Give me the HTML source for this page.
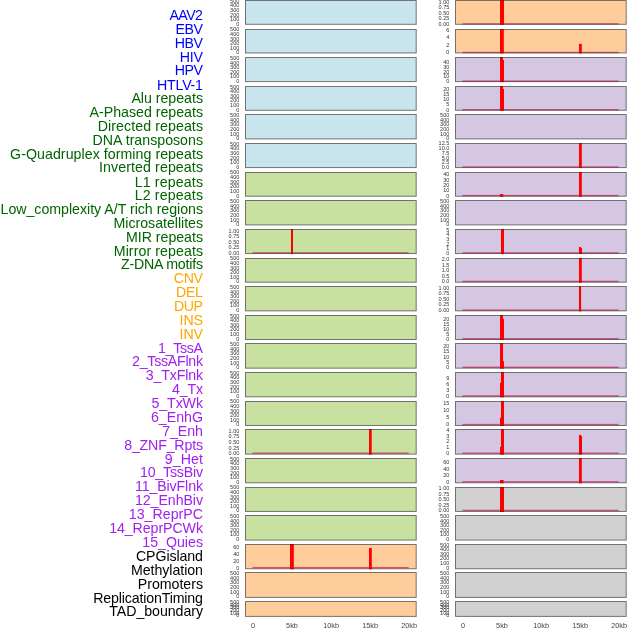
<!DOCTYPE html><html><head><meta charset="utf-8"><style>html,body{margin:0;padding:0;background:#fff;width:630px;height:630px;overflow:hidden}svg{display:block;will-change:transform}text{font-family:"Liberation Sans",sans-serif}</style></head><body>
<svg width="630" height="630" viewBox="0 0 630 630">
<text x="203.0" y="20" font-size="14.2" fill="#0000ff" text-anchor="end" textLength="33.55" lengthAdjust="spacing">AAV2</text>
<text x="203.0" y="34" font-size="14.2" fill="#0000ff" text-anchor="end" textLength="27.48" lengthAdjust="spacing">EBV</text>
<text x="203.0" y="48" font-size="14.2" fill="#0000ff" text-anchor="end" textLength="28.34" lengthAdjust="spacing">HBV</text>
<text x="203.0" y="62" font-size="14.2" fill="#0000ff" text-anchor="end" textLength="23.20" lengthAdjust="spacing">HIV</text>
<text x="203.0" y="75" font-size="14.2" fill="#0000ff" text-anchor="end" textLength="28.34" lengthAdjust="spacing">HPV</text>
<text x="203.0" y="90" font-size="14.2" fill="#0000ff" text-anchor="end" textLength="45.92" lengthAdjust="spacing">HTLV-1</text>
<text x="203.0" y="103" font-size="14.2" fill="#006400" text-anchor="end" textLength="71.60" lengthAdjust="spacing">Alu repeats</text>
<text x="203.0" y="117" font-size="14.2" fill="#006400" text-anchor="end" textLength="113.45" lengthAdjust="spacing">A-Phased repeats</text>
<text x="203.0" y="131" font-size="14.2" fill="#006400" text-anchor="end" textLength="105.34" lengthAdjust="spacing">Directed repeats</text>
<text x="203.0" y="145" font-size="14.2" fill="#006400" text-anchor="end" textLength="110.46" lengthAdjust="spacing">DNA transposons</text>
<text x="203.0" y="159" font-size="14.2" fill="#006400" text-anchor="end" textLength="192.90" lengthAdjust="spacing">G-Quadruplex forming repeats</text>
<text x="203.0" y="172" font-size="14.2" fill="#006400" text-anchor="end" textLength="104.08" lengthAdjust="spacing">Inverted repeats</text>
<text x="203.0" y="187" font-size="14.2" fill="#006400" text-anchor="end" textLength="68.30" lengthAdjust="spacing">L1 repeats</text>
<text x="203.0" y="200" font-size="14.2" fill="#006400" text-anchor="end" textLength="68.30" lengthAdjust="spacing">L2 repeats</text>
<text x="203.0" y="214" font-size="14.2" fill="#006400" text-anchor="end" textLength="202.44" lengthAdjust="spacing">Low_complexity A/T rich regions</text>
<text x="203.0" y="228" font-size="14.2" fill="#006400" text-anchor="end" textLength="89.47" lengthAdjust="spacing">Microsatellites</text>
<text x="203.0" y="242" font-size="14.2" fill="#006400" text-anchor="end" textLength="77.03" lengthAdjust="spacing">MIR repeats</text>
<text x="203.0" y="256" font-size="14.2" fill="#006400" text-anchor="end" textLength="89.26" lengthAdjust="spacing">Mirror repeats</text>
<text x="203.0" y="269" font-size="14.2" fill="#006400" text-anchor="end" textLength="82.05" lengthAdjust="spacing">Z-DNA motifs</text>
<text x="203.0" y="283" font-size="14.2" fill="#ffa500" text-anchor="end" textLength="29.16" lengthAdjust="spacing">CNV</text>
<text x="203.0" y="297" font-size="14.2" fill="#ffa500" text-anchor="end" textLength="27.12" lengthAdjust="spacing">DEL</text>
<text x="203.0" y="311" font-size="14.2" fill="#ffa500" text-anchor="end" textLength="29.04" lengthAdjust="spacing">DUP</text>
<text x="203.0" y="325" font-size="14.2" fill="#ffa500" text-anchor="end" textLength="23.39" lengthAdjust="spacing">INS</text>
<text x="203.0" y="339" font-size="14.2" fill="#ffa500" text-anchor="end" textLength="23.39" lengthAdjust="spacing">INV</text>
<text x="203.0" y="353" font-size="14.2" fill="#a020f0" text-anchor="end" textLength="45.00" lengthAdjust="spacing">1_TssA</text>
<text x="203.0" y="366" font-size="14.2" fill="#a020f0" text-anchor="end" textLength="70.94" lengthAdjust="spacing">2_TssAFlnk</text>
<text x="203.0" y="380" font-size="14.2" fill="#a020f0" text-anchor="end" textLength="57.18" lengthAdjust="spacing">3_TxFlnk</text>
<text x="203.0" y="394" font-size="14.2" fill="#a020f0" text-anchor="end" textLength="30.91" lengthAdjust="spacing">4_Tx</text>
<text x="203.0" y="408" font-size="14.2" fill="#a020f0" text-anchor="end" textLength="51.47" lengthAdjust="spacing">5_TxWk</text>
<text x="203.0" y="422" font-size="14.2" fill="#a020f0" text-anchor="end" textLength="52.05" lengthAdjust="spacing">6_EnhG</text>
<text x="203.0" y="436" font-size="14.2" fill="#a020f0" text-anchor="end" textLength="40.80" lengthAdjust="spacing">7_Enh</text>
<text x="203.0" y="450" font-size="14.2" fill="#a020f0" text-anchor="end" textLength="78.80" lengthAdjust="spacing">8_ZNF_Rpts</text>
<text x="203.0" y="464" font-size="14.2" fill="#a020f0" text-anchor="end" textLength="38.16" lengthAdjust="spacing">9_Het</text>
<text x="203.0" y="477" font-size="14.2" fill="#a020f0" text-anchor="end" textLength="63.04" lengthAdjust="spacing">10_TssBiv</text>
<text x="203.0" y="491" font-size="14.2" fill="#a020f0" text-anchor="end" textLength="68.09" lengthAdjust="spacing">11_BivFlnk</text>
<text x="203.0" y="505" font-size="14.2" fill="#a020f0" text-anchor="end" textLength="68.00" lengthAdjust="spacing">12_EnhBiv</text>
<text x="203.0" y="519" font-size="14.2" fill="#a020f0" text-anchor="end" textLength="74.19" lengthAdjust="spacing">13_ReprPC</text>
<text x="203.0" y="533" font-size="14.2" fill="#a020f0" text-anchor="end" textLength="93.80" lengthAdjust="spacing">14_ReprPCWk</text>
<text x="203.0" y="547" font-size="14.2" fill="#a020f0" text-anchor="end" textLength="60.75" lengthAdjust="spacing">15_Quies</text>
<text x="203.0" y="561" font-size="14.2" fill="#000000" text-anchor="end" textLength="67.11" lengthAdjust="spacing">CPGisland</text>
<text x="203.0" y="575" font-size="14.2" fill="#000000" text-anchor="end" textLength="72.10" lengthAdjust="spacing">Methylation</text>
<text x="203.0" y="589" font-size="14.2" fill="#000000" text-anchor="end" textLength="65.13" lengthAdjust="spacing">Promoters</text>
<text x="203.0" y="603" font-size="14.2" fill="#000000" text-anchor="end" textLength="109.82" lengthAdjust="spacing">ReplicationTiming</text>
<text x="203.0" y="616" font-size="14.2" fill="#000000" text-anchor="end" textLength="93.72" lengthAdjust="spacing">TAD_boundary</text>
<rect x="245.5" y="0.5" width="170.7" height="23.8" fill="#c8e4ec"/>
<rect x="245.5" y="0.5" width="170.7" height="23.8" fill="none" stroke="rgba(40,40,40,0.62)" stroke-width="1"/>
<text x="239.3" y="26" font-size="5.5" fill="#333333" text-anchor="end">0</text>
<text x="239.3" y="21" font-size="5.5" fill="#333333" text-anchor="end">100</text>
<text x="239.3" y="17" font-size="5.5" fill="#333333" text-anchor="end">200</text>
<text x="239.3" y="12" font-size="5.5" fill="#333333" text-anchor="end">300</text>
<text x="239.3" y="7" font-size="5.5" fill="#333333" text-anchor="end">400</text>
<text x="239.3" y="3" font-size="5.5" fill="#333333" text-anchor="end">500</text>
<rect x="455.5" y="0.5" width="170.7" height="23.8" fill="#ffcd9b"/>
<rect x="462.45" y="23.2" width="156.2" height="1.3" fill="rgba(210,15,75,0.66)"/>
<rect x="500" y="0" width="4" height="24.8" fill="#ff0000"/>
<rect x="455.5" y="0.5" width="170.7" height="23.8" fill="none" stroke="rgba(40,40,40,0.62)" stroke-width="1"/>
<text x="449.3" y="26" font-size="5.5" fill="#333333" text-anchor="end">0.00</text>
<text x="449.3" y="20" font-size="5.5" fill="#333333" text-anchor="end">0.25</text>
<text x="449.3" y="15" font-size="5.5" fill="#333333" text-anchor="end">0.50</text>
<text x="449.3" y="9" font-size="5.5" fill="#333333" text-anchor="end">0.75</text>
<text x="449.3" y="4" font-size="5.5" fill="#333333" text-anchor="end">1.00</text>
<rect x="245.5" y="29.5" width="170.7" height="23.45" fill="#c8e4ec"/>
<rect x="245.5" y="29.5" width="170.7" height="23.45" fill="none" stroke="rgba(40,40,40,0.62)" stroke-width="1"/>
<text x="239.3" y="54" font-size="5.5" fill="#333333" text-anchor="end">0</text>
<text x="239.3" y="50" font-size="5.5" fill="#333333" text-anchor="end">100</text>
<text x="239.3" y="45" font-size="5.5" fill="#333333" text-anchor="end">200</text>
<text x="239.3" y="41" font-size="5.5" fill="#333333" text-anchor="end">300</text>
<text x="239.3" y="36" font-size="5.5" fill="#333333" text-anchor="end">400</text>
<text x="239.3" y="31" font-size="5.5" fill="#333333" text-anchor="end">500</text>
<rect x="455.5" y="29.5" width="170.7" height="23.45" fill="#ffcd9b"/>
<rect x="462.45" y="51.82" width="156.2" height="1.3" fill="rgba(210,15,75,0.66)"/>
<rect x="500" y="29" width="3.8" height="24.45" fill="#ff0000"/>
<rect x="579" y="43.9" width="2.8" height="9.55" fill="#ff0000"/>
<rect x="455.5" y="29.5" width="170.7" height="23.45" fill="none" stroke="rgba(40,40,40,0.62)" stroke-width="1"/>
<text x="449.3" y="54" font-size="5.5" fill="#333333" text-anchor="end">0</text>
<text x="449.3" y="47" font-size="5.5" fill="#333333" text-anchor="end">2</text>
<text x="449.3" y="39" font-size="5.5" fill="#333333" text-anchor="end">4</text>
<text x="449.3" y="32" font-size="5.5" fill="#333333" text-anchor="end">6</text>
<rect x="245.5" y="57.5" width="170.7" height="24.11" fill="#c8e4ec"/>
<rect x="245.5" y="57.5" width="170.7" height="24.11" fill="none" stroke="rgba(40,40,40,0.62)" stroke-width="1"/>
<text x="239.3" y="83" font-size="5.5" fill="#333333" text-anchor="end">0</text>
<text x="239.3" y="78" font-size="5.5" fill="#333333" text-anchor="end">100</text>
<text x="239.3" y="74" font-size="5.5" fill="#333333" text-anchor="end">200</text>
<text x="239.3" y="69" font-size="5.5" fill="#333333" text-anchor="end">300</text>
<text x="239.3" y="65" font-size="5.5" fill="#333333" text-anchor="end">400</text>
<text x="239.3" y="60" font-size="5.5" fill="#333333" text-anchor="end">500</text>
<rect x="455.5" y="57.5" width="170.7" height="24.11" fill="#d5c6e2"/>
<rect x="462.45" y="80.44" width="156.2" height="1.3" fill="rgba(210,15,75,0.66)"/>
<rect x="500" y="57" width="3" height="25.11" fill="#ff0000"/>
<rect x="503" y="59.95" width="1" height="22.16" fill="#ff0000"/>
<rect x="455.5" y="57.5" width="170.7" height="24.11" fill="none" stroke="rgba(40,40,40,0.62)" stroke-width="1"/>
<text x="449.3" y="83" font-size="5.5" fill="#333333" text-anchor="end">0</text>
<text x="449.3" y="78" font-size="5.5" fill="#333333" text-anchor="end">10</text>
<text x="449.3" y="74" font-size="5.5" fill="#333333" text-anchor="end">20</text>
<text x="449.3" y="69" font-size="5.5" fill="#333333" text-anchor="end">30</text>
<text x="449.3" y="64" font-size="5.5" fill="#333333" text-anchor="end">40</text>
<rect x="245.5" y="86.5" width="170.7" height="23.77" fill="#c8e4ec"/>
<rect x="245.5" y="86.5" width="170.7" height="23.77" fill="none" stroke="rgba(40,40,40,0.62)" stroke-width="1"/>
<text x="239.3" y="112" font-size="5.5" fill="#333333" text-anchor="end">0</text>
<text x="239.3" y="107" font-size="5.5" fill="#333333" text-anchor="end">100</text>
<text x="239.3" y="102" font-size="5.5" fill="#333333" text-anchor="end">200</text>
<text x="239.3" y="98" font-size="5.5" fill="#333333" text-anchor="end">300</text>
<text x="239.3" y="93" font-size="5.5" fill="#333333" text-anchor="end">400</text>
<text x="239.3" y="89" font-size="5.5" fill="#333333" text-anchor="end">500</text>
<rect x="455.5" y="86.5" width="170.7" height="23.77" fill="#d5c6e2"/>
<rect x="462.45" y="109.06" width="156.2" height="1.3" fill="rgba(210,15,75,0.66)"/>
<rect x="500" y="86" width="3" height="24.77" fill="#ff0000"/>
<rect x="503" y="88.9" width="1" height="21.86" fill="#ff0000"/>
<rect x="455.5" y="86.5" width="170.7" height="23.77" fill="none" stroke="rgba(40,40,40,0.62)" stroke-width="1"/>
<text x="449.3" y="112" font-size="5.5" fill="#333333" text-anchor="end">0</text>
<text x="449.3" y="106" font-size="5.5" fill="#333333" text-anchor="end">5</text>
<text x="449.3" y="101" font-size="5.5" fill="#333333" text-anchor="end">10</text>
<text x="449.3" y="96" font-size="5.5" fill="#333333" text-anchor="end">15</text>
<text x="449.3" y="91" font-size="5.5" fill="#333333" text-anchor="end">20</text>
<rect x="245.5" y="114.5" width="170.7" height="24.42" fill="#c8e4ec"/>
<rect x="245.5" y="114.5" width="170.7" height="24.42" fill="none" stroke="rgba(40,40,40,0.62)" stroke-width="1"/>
<text x="239.3" y="140" font-size="5.5" fill="#333333" text-anchor="end">0</text>
<text x="239.3" y="136" font-size="5.5" fill="#333333" text-anchor="end">100</text>
<text x="239.3" y="131" font-size="5.5" fill="#333333" text-anchor="end">200</text>
<text x="239.3" y="126" font-size="5.5" fill="#333333" text-anchor="end">300</text>
<text x="239.3" y="122" font-size="5.5" fill="#333333" text-anchor="end">400</text>
<text x="239.3" y="117" font-size="5.5" fill="#333333" text-anchor="end">500</text>
<rect x="455.5" y="114.5" width="170.7" height="24.42" fill="#d5c6e2"/>
<rect x="455.5" y="114.5" width="170.7" height="24.42" fill="none" stroke="rgba(40,40,40,0.62)" stroke-width="1"/>
<text x="449.3" y="140" font-size="5.5" fill="#333333" text-anchor="end">0</text>
<text x="449.3" y="136" font-size="5.5" fill="#333333" text-anchor="end">100</text>
<text x="449.3" y="131" font-size="5.5" fill="#333333" text-anchor="end">200</text>
<text x="449.3" y="126" font-size="5.5" fill="#333333" text-anchor="end">300</text>
<text x="449.3" y="122" font-size="5.5" fill="#333333" text-anchor="end">400</text>
<text x="449.3" y="117" font-size="5.5" fill="#333333" text-anchor="end">500</text>
<rect x="245.5" y="143.5" width="170.7" height="24.08" fill="#c8e4ec"/>
<rect x="245.5" y="143.5" width="170.7" height="24.08" fill="none" stroke="rgba(40,40,40,0.62)" stroke-width="1"/>
<text x="239.3" y="169" font-size="5.5" fill="#333333" text-anchor="end">0</text>
<text x="239.3" y="164" font-size="5.5" fill="#333333" text-anchor="end">100</text>
<text x="239.3" y="160" font-size="5.5" fill="#333333" text-anchor="end">200</text>
<text x="239.3" y="155" font-size="5.5" fill="#333333" text-anchor="end">300</text>
<text x="239.3" y="150" font-size="5.5" fill="#333333" text-anchor="end">400</text>
<text x="239.3" y="146" font-size="5.5" fill="#333333" text-anchor="end">500</text>
<rect x="455.5" y="143.5" width="170.7" height="24.08" fill="#d5c6e2"/>
<rect x="462.45" y="166.29" width="156.2" height="1.3" fill="rgba(210,15,75,0.66)"/>
<rect x="579" y="143" width="2.8" height="25.08" fill="#ff0000"/>
<rect x="455.5" y="143.5" width="170.7" height="24.08" fill="none" stroke="rgba(40,40,40,0.62)" stroke-width="1"/>
<text x="449.3" y="169" font-size="5.5" fill="#333333" text-anchor="end">0.0</text>
<text x="449.3" y="164" font-size="5.5" fill="#333333" text-anchor="end">2.5</text>
<text x="449.3" y="160" font-size="5.5" fill="#333333" text-anchor="end">5.0</text>
<text x="449.3" y="155" font-size="5.5" fill="#333333" text-anchor="end">7.5</text>
<text x="449.3" y="150" font-size="5.5" fill="#333333" text-anchor="end">10.0</text>
<text x="449.3" y="145" font-size="5.5" fill="#333333" text-anchor="end">12.5</text>
<rect x="245.5" y="172.5" width="170.7" height="23.73" fill="#c8e0a0"/>
<rect x="245.5" y="172.5" width="170.7" height="23.73" fill="none" stroke="rgba(40,40,40,0.62)" stroke-width="1"/>
<text x="239.3" y="198" font-size="5.5" fill="#333333" text-anchor="end">0</text>
<text x="239.3" y="193" font-size="5.5" fill="#333333" text-anchor="end">100</text>
<text x="239.3" y="188" font-size="5.5" fill="#333333" text-anchor="end">200</text>
<text x="239.3" y="184" font-size="5.5" fill="#333333" text-anchor="end">300</text>
<text x="239.3" y="179" font-size="5.5" fill="#333333" text-anchor="end">400</text>
<text x="239.3" y="174" font-size="5.5" fill="#333333" text-anchor="end">500</text>
<rect x="455.5" y="172.5" width="170.7" height="23.73" fill="#d5c6e2"/>
<rect x="462.45" y="194.91" width="156.2" height="1.3" fill="rgba(210,15,75,0.66)"/>
<rect x="579" y="172" width="2.8" height="24.73" fill="#ff0000"/>
<rect x="500" y="194" width="3.3" height="2.73" fill="#ff0000"/>
<rect x="455.5" y="172.5" width="170.7" height="23.73" fill="none" stroke="rgba(40,40,40,0.62)" stroke-width="1"/>
<text x="449.3" y="198" font-size="5.5" fill="#333333" text-anchor="end">0</text>
<text x="449.3" y="192" font-size="5.5" fill="#333333" text-anchor="end">10</text>
<text x="449.3" y="187" font-size="5.5" fill="#333333" text-anchor="end">20</text>
<text x="449.3" y="182" font-size="5.5" fill="#333333" text-anchor="end">30</text>
<text x="449.3" y="176" font-size="5.5" fill="#333333" text-anchor="end">40</text>
<rect x="245.5" y="200.5" width="170.7" height="24.39" fill="#c8e0a0"/>
<rect x="245.5" y="200.5" width="170.7" height="24.39" fill="none" stroke="rgba(40,40,40,0.62)" stroke-width="1"/>
<text x="239.3" y="226" font-size="5.5" fill="#333333" text-anchor="end">0</text>
<text x="239.3" y="222" font-size="5.5" fill="#333333" text-anchor="end">100</text>
<text x="239.3" y="217" font-size="5.5" fill="#333333" text-anchor="end">200</text>
<text x="239.3" y="212" font-size="5.5" fill="#333333" text-anchor="end">300</text>
<text x="239.3" y="208" font-size="5.5" fill="#333333" text-anchor="end">400</text>
<text x="239.3" y="203" font-size="5.5" fill="#333333" text-anchor="end">500</text>
<rect x="455.5" y="200.5" width="170.7" height="24.39" fill="#d5c6e2"/>
<rect x="455.5" y="200.5" width="170.7" height="24.39" fill="none" stroke="rgba(40,40,40,0.62)" stroke-width="1"/>
<text x="449.3" y="226" font-size="5.5" fill="#333333" text-anchor="end">0</text>
<text x="449.3" y="222" font-size="5.5" fill="#333333" text-anchor="end">100</text>
<text x="449.3" y="217" font-size="5.5" fill="#333333" text-anchor="end">200</text>
<text x="449.3" y="212" font-size="5.5" fill="#333333" text-anchor="end">300</text>
<text x="449.3" y="208" font-size="5.5" fill="#333333" text-anchor="end">400</text>
<text x="449.3" y="203" font-size="5.5" fill="#333333" text-anchor="end">500</text>
<rect x="245.5" y="229.5" width="170.7" height="24.04" fill="#c8e0a0"/>
<rect x="252.45" y="252.15" width="156.2" height="1.3" fill="rgba(210,15,75,0.66)"/>
<rect x="291" y="229" width="2" height="25.04" fill="#ff0000"/>
<rect x="245.5" y="229.5" width="170.7" height="24.04" fill="none" stroke="rgba(40,40,40,0.62)" stroke-width="1"/>
<text x="239.3" y="255" font-size="5.5" fill="#333333" text-anchor="end">0.00</text>
<text x="239.3" y="249" font-size="5.5" fill="#333333" text-anchor="end">0.25</text>
<text x="239.3" y="244" font-size="5.5" fill="#333333" text-anchor="end">0.50</text>
<text x="239.3" y="238" font-size="5.5" fill="#333333" text-anchor="end">0.75</text>
<text x="239.3" y="233" font-size="5.5" fill="#333333" text-anchor="end">1.00</text>
<rect x="455.5" y="229.5" width="170.7" height="24.04" fill="#d5c6e2"/>
<rect x="462.45" y="252.15" width="156.2" height="1.3" fill="rgba(210,15,75,0.66)"/>
<rect x="501" y="229" width="3" height="25.04" fill="#ff0000"/>
<rect x="579" y="247" width="2" height="7.04" fill="#ff0000"/>
<rect x="581" y="247.9" width="1" height="6.14" fill="#ff0000"/>
<rect x="455.5" y="229.5" width="170.7" height="24.04" fill="none" stroke="rgba(40,40,40,0.62)" stroke-width="1"/>
<text x="449.3" y="255" font-size="5.5" fill="#333333" text-anchor="end">0</text>
<text x="449.3" y="250" font-size="5.5" fill="#333333" text-anchor="end">1</text>
<text x="449.3" y="246" font-size="5.5" fill="#333333" text-anchor="end">2</text>
<text x="449.3" y="241" font-size="5.5" fill="#333333" text-anchor="end">3</text>
<text x="449.3" y="236" font-size="5.5" fill="#333333" text-anchor="end">4</text>
<text x="449.3" y="232" font-size="5.5" fill="#333333" text-anchor="end">5</text>
<rect x="245.5" y="258.5" width="170.7" height="23.69" fill="#c8e0a0"/>
<rect x="245.5" y="258.5" width="170.7" height="23.69" fill="none" stroke="rgba(40,40,40,0.62)" stroke-width="1"/>
<text x="239.3" y="283" font-size="5.5" fill="#333333" text-anchor="end">0</text>
<text x="239.3" y="279" font-size="5.5" fill="#333333" text-anchor="end">100</text>
<text x="239.3" y="274" font-size="5.5" fill="#333333" text-anchor="end">200</text>
<text x="239.3" y="270" font-size="5.5" fill="#333333" text-anchor="end">300</text>
<text x="239.3" y="265" font-size="5.5" fill="#333333" text-anchor="end">400</text>
<text x="239.3" y="260" font-size="5.5" fill="#333333" text-anchor="end">500</text>
<rect x="455.5" y="258.5" width="170.7" height="23.69" fill="#d5c6e2"/>
<rect x="462.45" y="280.77" width="156.2" height="1.3" fill="rgba(210,15,75,0.66)"/>
<rect x="579" y="258" width="2.8" height="24.69" fill="#ff0000"/>
<rect x="455.5" y="258.5" width="170.7" height="23.69" fill="none" stroke="rgba(40,40,40,0.62)" stroke-width="1"/>
<text x="449.3" y="283" font-size="5.5" fill="#333333" text-anchor="end">0.0</text>
<text x="449.3" y="278" font-size="5.5" fill="#333333" text-anchor="end">0.5</text>
<text x="449.3" y="272" font-size="5.5" fill="#333333" text-anchor="end">1.0</text>
<text x="449.3" y="267" font-size="5.5" fill="#333333" text-anchor="end">1.5</text>
<text x="449.3" y="261" font-size="5.5" fill="#333333" text-anchor="end">2.0</text>
<rect x="245.5" y="286.5" width="170.7" height="24.35" fill="#c8e0a0"/>
<rect x="245.5" y="286.5" width="170.7" height="24.35" fill="none" stroke="rgba(40,40,40,0.62)" stroke-width="1"/>
<text x="239.3" y="312" font-size="5.5" fill="#333333" text-anchor="end">0</text>
<text x="239.3" y="307" font-size="5.5" fill="#333333" text-anchor="end">100</text>
<text x="239.3" y="303" font-size="5.5" fill="#333333" text-anchor="end">200</text>
<text x="239.3" y="298" font-size="5.5" fill="#333333" text-anchor="end">300</text>
<text x="239.3" y="294" font-size="5.5" fill="#333333" text-anchor="end">400</text>
<text x="239.3" y="289" font-size="5.5" fill="#333333" text-anchor="end">500</text>
<rect x="455.5" y="286.5" width="170.7" height="24.35" fill="#d5c6e2"/>
<rect x="462.45" y="309.39" width="156.2" height="1.3" fill="rgba(210,15,75,0.66)"/>
<rect x="579" y="286" width="2.1" height="25.35" fill="#ff0000"/>
<rect x="455.5" y="286.5" width="170.7" height="24.35" fill="none" stroke="rgba(40,40,40,0.62)" stroke-width="1"/>
<text x="449.3" y="312" font-size="5.5" fill="#333333" text-anchor="end">0.00</text>
<text x="449.3" y="306" font-size="5.5" fill="#333333" text-anchor="end">0.25</text>
<text x="449.3" y="301" font-size="5.5" fill="#333333" text-anchor="end">0.50</text>
<text x="449.3" y="295" font-size="5.5" fill="#333333" text-anchor="end">0.75</text>
<text x="449.3" y="290" font-size="5.5" fill="#333333" text-anchor="end">1.00</text>
<rect x="245.5" y="315.5" width="170.7" height="24.01" fill="#c8e0a0"/>
<rect x="245.5" y="315.5" width="170.7" height="24.01" fill="none" stroke="rgba(40,40,40,0.62)" stroke-width="1"/>
<text x="239.3" y="341" font-size="5.5" fill="#333333" text-anchor="end">0</text>
<text x="239.3" y="336" font-size="5.5" fill="#333333" text-anchor="end">100</text>
<text x="239.3" y="331" font-size="5.5" fill="#333333" text-anchor="end">200</text>
<text x="239.3" y="327" font-size="5.5" fill="#333333" text-anchor="end">300</text>
<text x="239.3" y="322" font-size="5.5" fill="#333333" text-anchor="end">400</text>
<text x="239.3" y="318" font-size="5.5" fill="#333333" text-anchor="end">500</text>
<rect x="455.5" y="315.5" width="170.7" height="24.01" fill="#d5c6e2"/>
<rect x="462.45" y="338.01" width="156.2" height="1.3" fill="rgba(210,15,75,0.66)"/>
<rect x="500" y="315" width="3" height="25.01" fill="#ff0000"/>
<rect x="503" y="318.8" width="1" height="21.21" fill="#ff0000"/>
<rect x="455.5" y="315.5" width="170.7" height="24.01" fill="none" stroke="rgba(40,40,40,0.62)" stroke-width="1"/>
<text x="449.3" y="341" font-size="5.5" fill="#333333" text-anchor="end">0</text>
<text x="449.3" y="336" font-size="5.5" fill="#333333" text-anchor="end">5</text>
<text x="449.3" y="331" font-size="5.5" fill="#333333" text-anchor="end">10</text>
<text x="449.3" y="326" font-size="5.5" fill="#333333" text-anchor="end">15</text>
<text x="449.3" y="321" font-size="5.5" fill="#333333" text-anchor="end">20</text>
<rect x="245.5" y="343.5" width="170.7" height="24.66" fill="#c8e0a0"/>
<rect x="245.5" y="343.5" width="170.7" height="24.66" fill="none" stroke="rgba(40,40,40,0.62)" stroke-width="1"/>
<text x="239.3" y="369" font-size="5.5" fill="#333333" text-anchor="end">0</text>
<text x="239.3" y="365" font-size="5.5" fill="#333333" text-anchor="end">100</text>
<text x="239.3" y="360" font-size="5.5" fill="#333333" text-anchor="end">200</text>
<text x="239.3" y="355" font-size="5.5" fill="#333333" text-anchor="end">300</text>
<text x="239.3" y="351" font-size="5.5" fill="#333333" text-anchor="end">400</text>
<text x="239.3" y="346" font-size="5.5" fill="#333333" text-anchor="end">500</text>
<rect x="455.5" y="343.5" width="170.7" height="24.66" fill="#d5c6e2"/>
<rect x="462.45" y="366.63" width="156.2" height="1.3" fill="rgba(210,15,75,0.66)"/>
<rect x="500" y="343" width="3" height="25.66" fill="#ff0000"/>
<rect x="503" y="361.1" width="1" height="7.56" fill="#ff0000"/>
<rect x="455.5" y="343.5" width="170.7" height="24.66" fill="none" stroke="rgba(40,40,40,0.62)" stroke-width="1"/>
<text x="449.3" y="369" font-size="5.5" fill="#333333" text-anchor="end">0</text>
<text x="449.3" y="364" font-size="5.5" fill="#333333" text-anchor="end">5</text>
<text x="449.3" y="359" font-size="5.5" fill="#333333" text-anchor="end">10</text>
<text x="449.3" y="353" font-size="5.5" fill="#333333" text-anchor="end">15</text>
<text x="449.3" y="348" font-size="5.5" fill="#333333" text-anchor="end">20</text>
<rect x="245.5" y="372.5" width="170.7" height="24.31" fill="#c8e0a0"/>
<rect x="245.5" y="372.5" width="170.7" height="24.31" fill="none" stroke="rgba(40,40,40,0.62)" stroke-width="1"/>
<text x="239.3" y="398" font-size="5.5" fill="#333333" text-anchor="end">0</text>
<text x="239.3" y="393" font-size="5.5" fill="#333333" text-anchor="end">100</text>
<text x="239.3" y="389" font-size="5.5" fill="#333333" text-anchor="end">200</text>
<text x="239.3" y="384" font-size="5.5" fill="#333333" text-anchor="end">300</text>
<text x="239.3" y="379" font-size="5.5" fill="#333333" text-anchor="end">400</text>
<text x="239.3" y="375" font-size="5.5" fill="#333333" text-anchor="end">500</text>
<rect x="455.5" y="372.5" width="170.7" height="24.31" fill="#d5c6e2"/>
<rect x="462.45" y="395.25" width="156.2" height="1.3" fill="rgba(210,15,75,0.66)"/>
<rect x="501" y="372" width="3" height="25.31" fill="#ff0000"/>
<rect x="500" y="382.9" width="1" height="14.42" fill="#ff0000"/>
<rect x="455.5" y="372.5" width="170.7" height="24.31" fill="none" stroke="rgba(40,40,40,0.62)" stroke-width="1"/>
<text x="449.3" y="398" font-size="5.5" fill="#333333" text-anchor="end">0</text>
<text x="449.3" y="392" font-size="5.5" fill="#333333" text-anchor="end">3</text>
<text x="449.3" y="386" font-size="5.5" fill="#333333" text-anchor="end">6</text>
<text x="449.3" y="380" font-size="5.5" fill="#333333" text-anchor="end">9</text>
<rect x="245.5" y="401.5" width="170.7" height="23.97" fill="#c8e0a0"/>
<rect x="245.5" y="401.5" width="170.7" height="23.97" fill="none" stroke="rgba(40,40,40,0.62)" stroke-width="1"/>
<text x="239.3" y="426" font-size="5.5" fill="#333333" text-anchor="end">0</text>
<text x="239.3" y="422" font-size="5.5" fill="#333333" text-anchor="end">100</text>
<text x="239.3" y="417" font-size="5.5" fill="#333333" text-anchor="end">200</text>
<text x="239.3" y="413" font-size="5.5" fill="#333333" text-anchor="end">300</text>
<text x="239.3" y="408" font-size="5.5" fill="#333333" text-anchor="end">400</text>
<text x="239.3" y="403" font-size="5.5" fill="#333333" text-anchor="end">500</text>
<rect x="455.5" y="401.5" width="170.7" height="23.97" fill="#d5c6e2"/>
<rect x="462.45" y="423.87" width="156.2" height="1.3" fill="rgba(210,15,75,0.66)"/>
<rect x="501" y="401" width="3" height="24.97" fill="#ff0000"/>
<rect x="500" y="417.9" width="1" height="8.07" fill="#ff0000"/>
<rect x="455.5" y="401.5" width="170.7" height="23.97" fill="none" stroke="rgba(40,40,40,0.62)" stroke-width="1"/>
<text x="449.3" y="426" font-size="5.5" fill="#333333" text-anchor="end">0</text>
<text x="449.3" y="419" font-size="5.5" fill="#333333" text-anchor="end">5</text>
<text x="449.3" y="412" font-size="5.5" fill="#333333" text-anchor="end">10</text>
<text x="449.3" y="405" font-size="5.5" fill="#333333" text-anchor="end">15</text>
<rect x="245.5" y="429.5" width="170.7" height="24.63" fill="#c8e0a0"/>
<rect x="252.45" y="452.49" width="156.2" height="1.3" fill="rgba(210,15,75,0.66)"/>
<rect x="369" y="429" width="2.7" height="25.63" fill="#ff0000"/>
<rect x="245.5" y="429.5" width="170.7" height="24.63" fill="none" stroke="rgba(40,40,40,0.62)" stroke-width="1"/>
<text x="239.3" y="455" font-size="5.5" fill="#333333" text-anchor="end">0.00</text>
<text x="239.3" y="450" font-size="5.5" fill="#333333" text-anchor="end">0.25</text>
<text x="239.3" y="444" font-size="5.5" fill="#333333" text-anchor="end">0.50</text>
<text x="239.3" y="438" font-size="5.5" fill="#333333" text-anchor="end">0.75</text>
<text x="239.3" y="433" font-size="5.5" fill="#333333" text-anchor="end">1.00</text>
<rect x="455.5" y="429.5" width="170.7" height="24.63" fill="#d5c6e2"/>
<rect x="462.45" y="452.49" width="156.2" height="1.3" fill="rgba(210,15,75,0.66)"/>
<rect x="501" y="429" width="3" height="25.63" fill="#ff0000"/>
<rect x="500" y="446.9" width="1" height="7.73" fill="#ff0000"/>
<rect x="579" y="434.9" width="2" height="19.73" fill="#ff0000"/>
<rect x="581" y="436" width="1" height="18.63" fill="#ff0000"/>
<rect x="455.5" y="429.5" width="170.7" height="24.63" fill="none" stroke="rgba(40,40,40,0.62)" stroke-width="1"/>
<text x="449.3" y="455" font-size="5.5" fill="#333333" text-anchor="end">0</text>
<text x="449.3" y="449" font-size="5.5" fill="#333333" text-anchor="end">1</text>
<text x="449.3" y="443" font-size="5.5" fill="#333333" text-anchor="end">2</text>
<text x="449.3" y="438" font-size="5.5" fill="#333333" text-anchor="end">3</text>
<text x="449.3" y="432" font-size="5.5" fill="#333333" text-anchor="end">4</text>
<rect x="245.5" y="458.5" width="170.7" height="24.28" fill="#c8e0a0"/>
<rect x="245.5" y="458.5" width="170.7" height="24.28" fill="none" stroke="rgba(40,40,40,0.62)" stroke-width="1"/>
<text x="239.3" y="484" font-size="5.5" fill="#333333" text-anchor="end">0</text>
<text x="239.3" y="479" font-size="5.5" fill="#333333" text-anchor="end">100</text>
<text x="239.3" y="475" font-size="5.5" fill="#333333" text-anchor="end">200</text>
<text x="239.3" y="470" font-size="5.5" fill="#333333" text-anchor="end">300</text>
<text x="239.3" y="465" font-size="5.5" fill="#333333" text-anchor="end">400</text>
<text x="239.3" y="461" font-size="5.5" fill="#333333" text-anchor="end">500</text>
<rect x="455.5" y="458.5" width="170.7" height="24.28" fill="#d5c6e2"/>
<rect x="462.45" y="481.1" width="156.2" height="1.3" fill="rgba(210,15,75,0.66)"/>
<rect x="579" y="458" width="2.8" height="25.28" fill="#ff0000"/>
<rect x="500" y="480" width="3.6" height="3.28" fill="#ff0000"/>
<rect x="455.5" y="458.5" width="170.7" height="24.28" fill="none" stroke="rgba(40,40,40,0.62)" stroke-width="1"/>
<text x="449.3" y="484" font-size="5.5" fill="#333333" text-anchor="end">0</text>
<text x="449.3" y="477" font-size="5.5" fill="#333333" text-anchor="end">20</text>
<text x="449.3" y="471" font-size="5.5" fill="#333333" text-anchor="end">40</text>
<text x="449.3" y="464" font-size="5.5" fill="#333333" text-anchor="end">60</text>
<rect x="245.5" y="487.5" width="170.7" height="23.94" fill="#c8e0a0"/>
<rect x="245.5" y="487.5" width="170.7" height="23.94" fill="none" stroke="rgba(40,40,40,0.62)" stroke-width="1"/>
<text x="239.3" y="512" font-size="5.5" fill="#333333" text-anchor="end">0</text>
<text x="239.3" y="508" font-size="5.5" fill="#333333" text-anchor="end">100</text>
<text x="239.3" y="503" font-size="5.5" fill="#333333" text-anchor="end">200</text>
<text x="239.3" y="499" font-size="5.5" fill="#333333" text-anchor="end">300</text>
<text x="239.3" y="494" font-size="5.5" fill="#333333" text-anchor="end">400</text>
<text x="239.3" y="489" font-size="5.5" fill="#333333" text-anchor="end">500</text>
<rect x="455.5" y="487.5" width="170.7" height="23.94" fill="#d1d1d1"/>
<rect x="462.45" y="509.72" width="156.2" height="1.3" fill="rgba(210,15,75,0.66)"/>
<rect x="500" y="487" width="4" height="24.94" fill="#ff0000"/>
<rect x="455.5" y="487.5" width="170.7" height="23.94" fill="none" stroke="rgba(40,40,40,0.62)" stroke-width="1"/>
<text x="449.3" y="512" font-size="5.5" fill="#333333" text-anchor="end">0.00</text>
<text x="449.3" y="507" font-size="5.5" fill="#333333" text-anchor="end">0.25</text>
<text x="449.3" y="501" font-size="5.5" fill="#333333" text-anchor="end">0.50</text>
<text x="449.3" y="496" font-size="5.5" fill="#333333" text-anchor="end">0.75</text>
<text x="449.3" y="490" font-size="5.5" fill="#333333" text-anchor="end">1.00</text>
<rect x="245.5" y="515.5" width="170.7" height="24.59" fill="#c8e0a0"/>
<rect x="245.5" y="515.5" width="170.7" height="24.59" fill="none" stroke="rgba(40,40,40,0.62)" stroke-width="1"/>
<text x="239.3" y="541" font-size="5.5" fill="#333333" text-anchor="end">0</text>
<text x="239.3" y="536" font-size="5.5" fill="#333333" text-anchor="end">100</text>
<text x="239.3" y="532" font-size="5.5" fill="#333333" text-anchor="end">200</text>
<text x="239.3" y="527" font-size="5.5" fill="#333333" text-anchor="end">300</text>
<text x="239.3" y="523" font-size="5.5" fill="#333333" text-anchor="end">400</text>
<text x="239.3" y="518" font-size="5.5" fill="#333333" text-anchor="end">500</text>
<rect x="455.5" y="515.5" width="170.7" height="24.59" fill="#d1d1d1"/>
<rect x="455.5" y="515.5" width="170.7" height="24.59" fill="none" stroke="rgba(40,40,40,0.62)" stroke-width="1"/>
<text x="449.3" y="541" font-size="5.5" fill="#333333" text-anchor="end">0</text>
<text x="449.3" y="536" font-size="5.5" fill="#333333" text-anchor="end">100</text>
<text x="449.3" y="532" font-size="5.5" fill="#333333" text-anchor="end">200</text>
<text x="449.3" y="527" font-size="5.5" fill="#333333" text-anchor="end">300</text>
<text x="449.3" y="523" font-size="5.5" fill="#333333" text-anchor="end">400</text>
<text x="449.3" y="518" font-size="5.5" fill="#333333" text-anchor="end">500</text>
<rect x="245.5" y="544.5" width="170.7" height="24.25" fill="#ffcd9b"/>
<rect x="252.45" y="566.96" width="156.2" height="1.3" fill="rgba(210,15,75,0.66)"/>
<rect x="290" y="544" width="3.8" height="25.25" fill="#ff0000"/>
<rect x="369" y="548" width="2.8" height="21.25" fill="#ff0000"/>
<rect x="245.5" y="544.5" width="170.7" height="24.25" fill="none" stroke="rgba(40,40,40,0.62)" stroke-width="1"/>
<text x="239.3" y="570" font-size="5.5" fill="#333333" text-anchor="end">0</text>
<text x="239.3" y="563" font-size="5.5" fill="#333333" text-anchor="end">20</text>
<text x="239.3" y="556" font-size="5.5" fill="#333333" text-anchor="end">40</text>
<text x="239.3" y="549" font-size="5.5" fill="#333333" text-anchor="end">60</text>
<rect x="455.5" y="544.5" width="170.7" height="24.25" fill="#d1d1d1"/>
<rect x="455.5" y="544.5" width="170.7" height="24.25" fill="none" stroke="rgba(40,40,40,0.62)" stroke-width="1"/>
<text x="449.3" y="570" font-size="5.5" fill="#333333" text-anchor="end">0</text>
<text x="449.3" y="565" font-size="5.5" fill="#333333" text-anchor="end">100</text>
<text x="449.3" y="560" font-size="5.5" fill="#333333" text-anchor="end">200</text>
<text x="449.3" y="556" font-size="5.5" fill="#333333" text-anchor="end">300</text>
<text x="449.3" y="551" font-size="5.5" fill="#333333" text-anchor="end">400</text>
<text x="449.3" y="547" font-size="5.5" fill="#333333" text-anchor="end">500</text>
<rect x="245.5" y="572.5" width="170.7" height="24.9" fill="#ffcd9b"/>
<rect x="245.5" y="572.5" width="170.7" height="24.9" fill="none" stroke="rgba(40,40,40,0.62)" stroke-width="1"/>
<text x="239.3" y="598" font-size="5.5" fill="#333333" text-anchor="end">0</text>
<text x="239.3" y="594" font-size="5.5" fill="#333333" text-anchor="end">100</text>
<text x="239.3" y="589" font-size="5.5" fill="#333333" text-anchor="end">200</text>
<text x="239.3" y="584" font-size="5.5" fill="#333333" text-anchor="end">300</text>
<text x="239.3" y="580" font-size="5.5" fill="#333333" text-anchor="end">400</text>
<text x="239.3" y="575" font-size="5.5" fill="#333333" text-anchor="end">500</text>
<rect x="455.5" y="572.5" width="170.7" height="24.9" fill="#d1d1d1"/>
<rect x="455.5" y="572.5" width="170.7" height="24.9" fill="none" stroke="rgba(40,40,40,0.62)" stroke-width="1"/>
<text x="449.3" y="598" font-size="5.5" fill="#333333" text-anchor="end">0</text>
<text x="449.3" y="594" font-size="5.5" fill="#333333" text-anchor="end">100</text>
<text x="449.3" y="589" font-size="5.5" fill="#333333" text-anchor="end">200</text>
<text x="449.3" y="584" font-size="5.5" fill="#333333" text-anchor="end">300</text>
<text x="449.3" y="580" font-size="5.5" fill="#333333" text-anchor="end">400</text>
<text x="449.3" y="575" font-size="5.5" fill="#333333" text-anchor="end">500</text>
<rect x="245.5" y="601.5" width="170.7" height="14.9" fill="#ffcd9b"/>
<rect x="245.5" y="601.5" width="170.7" height="14.9" fill="none" stroke="rgba(40,40,40,0.62)" stroke-width="1"/>
<text x="239.3" y="617" font-size="5.5" fill="#333333" text-anchor="end">0</text>
<text x="239.3" y="615" font-size="5.5" fill="#333333" text-anchor="end">100</text>
<text x="239.3" y="612" font-size="5.5" fill="#333333" text-anchor="end">200</text>
<text x="239.3" y="609" font-size="5.5" fill="#333333" text-anchor="end">300</text>
<text x="239.3" y="607" font-size="5.5" fill="#333333" text-anchor="end">400</text>
<text x="239.3" y="604" font-size="5.5" fill="#333333" text-anchor="end">500</text>
<rect x="455.5" y="601.5" width="170.7" height="14.9" fill="#d1d1d1"/>
<rect x="455.5" y="601.5" width="170.7" height="14.9" fill="none" stroke="rgba(40,40,40,0.62)" stroke-width="1"/>
<text x="449.3" y="617" font-size="5.5" fill="#333333" text-anchor="end">0</text>
<text x="449.3" y="615" font-size="5.5" fill="#333333" text-anchor="end">100</text>
<text x="449.3" y="612" font-size="5.5" fill="#333333" text-anchor="end">200</text>
<text x="449.3" y="609" font-size="5.5" fill="#333333" text-anchor="end">300</text>
<text x="449.3" y="607" font-size="5.5" fill="#333333" text-anchor="end">400</text>
<text x="449.3" y="604" font-size="5.5" fill="#333333" text-anchor="end">500</text>
<text x="252.95" y="627.9" font-size="7.3" fill="#454545" text-anchor="middle">0</text>
<text x="292" y="627.9" font-size="7.3" fill="#454545" text-anchor="middle">5kb</text>
<text x="331.05" y="627.9" font-size="7.3" fill="#454545" text-anchor="middle">10kb</text>
<text x="370.1" y="627.9" font-size="7.3" fill="#454545" text-anchor="middle">15kb</text>
<text x="409.15" y="627.9" font-size="7.3" fill="#454545" text-anchor="middle">20kb</text>
<text x="462.95" y="627.9" font-size="7.3" fill="#454545" text-anchor="middle">0</text>
<text x="502" y="627.9" font-size="7.3" fill="#454545" text-anchor="middle">5kb</text>
<text x="541.05" y="627.9" font-size="7.3" fill="#454545" text-anchor="middle">10kb</text>
<text x="580.1" y="627.9" font-size="7.3" fill="#454545" text-anchor="middle">15kb</text>
<text x="619.15" y="627.9" font-size="7.3" fill="#454545" text-anchor="middle">20kb</text>
</svg></body></html>
